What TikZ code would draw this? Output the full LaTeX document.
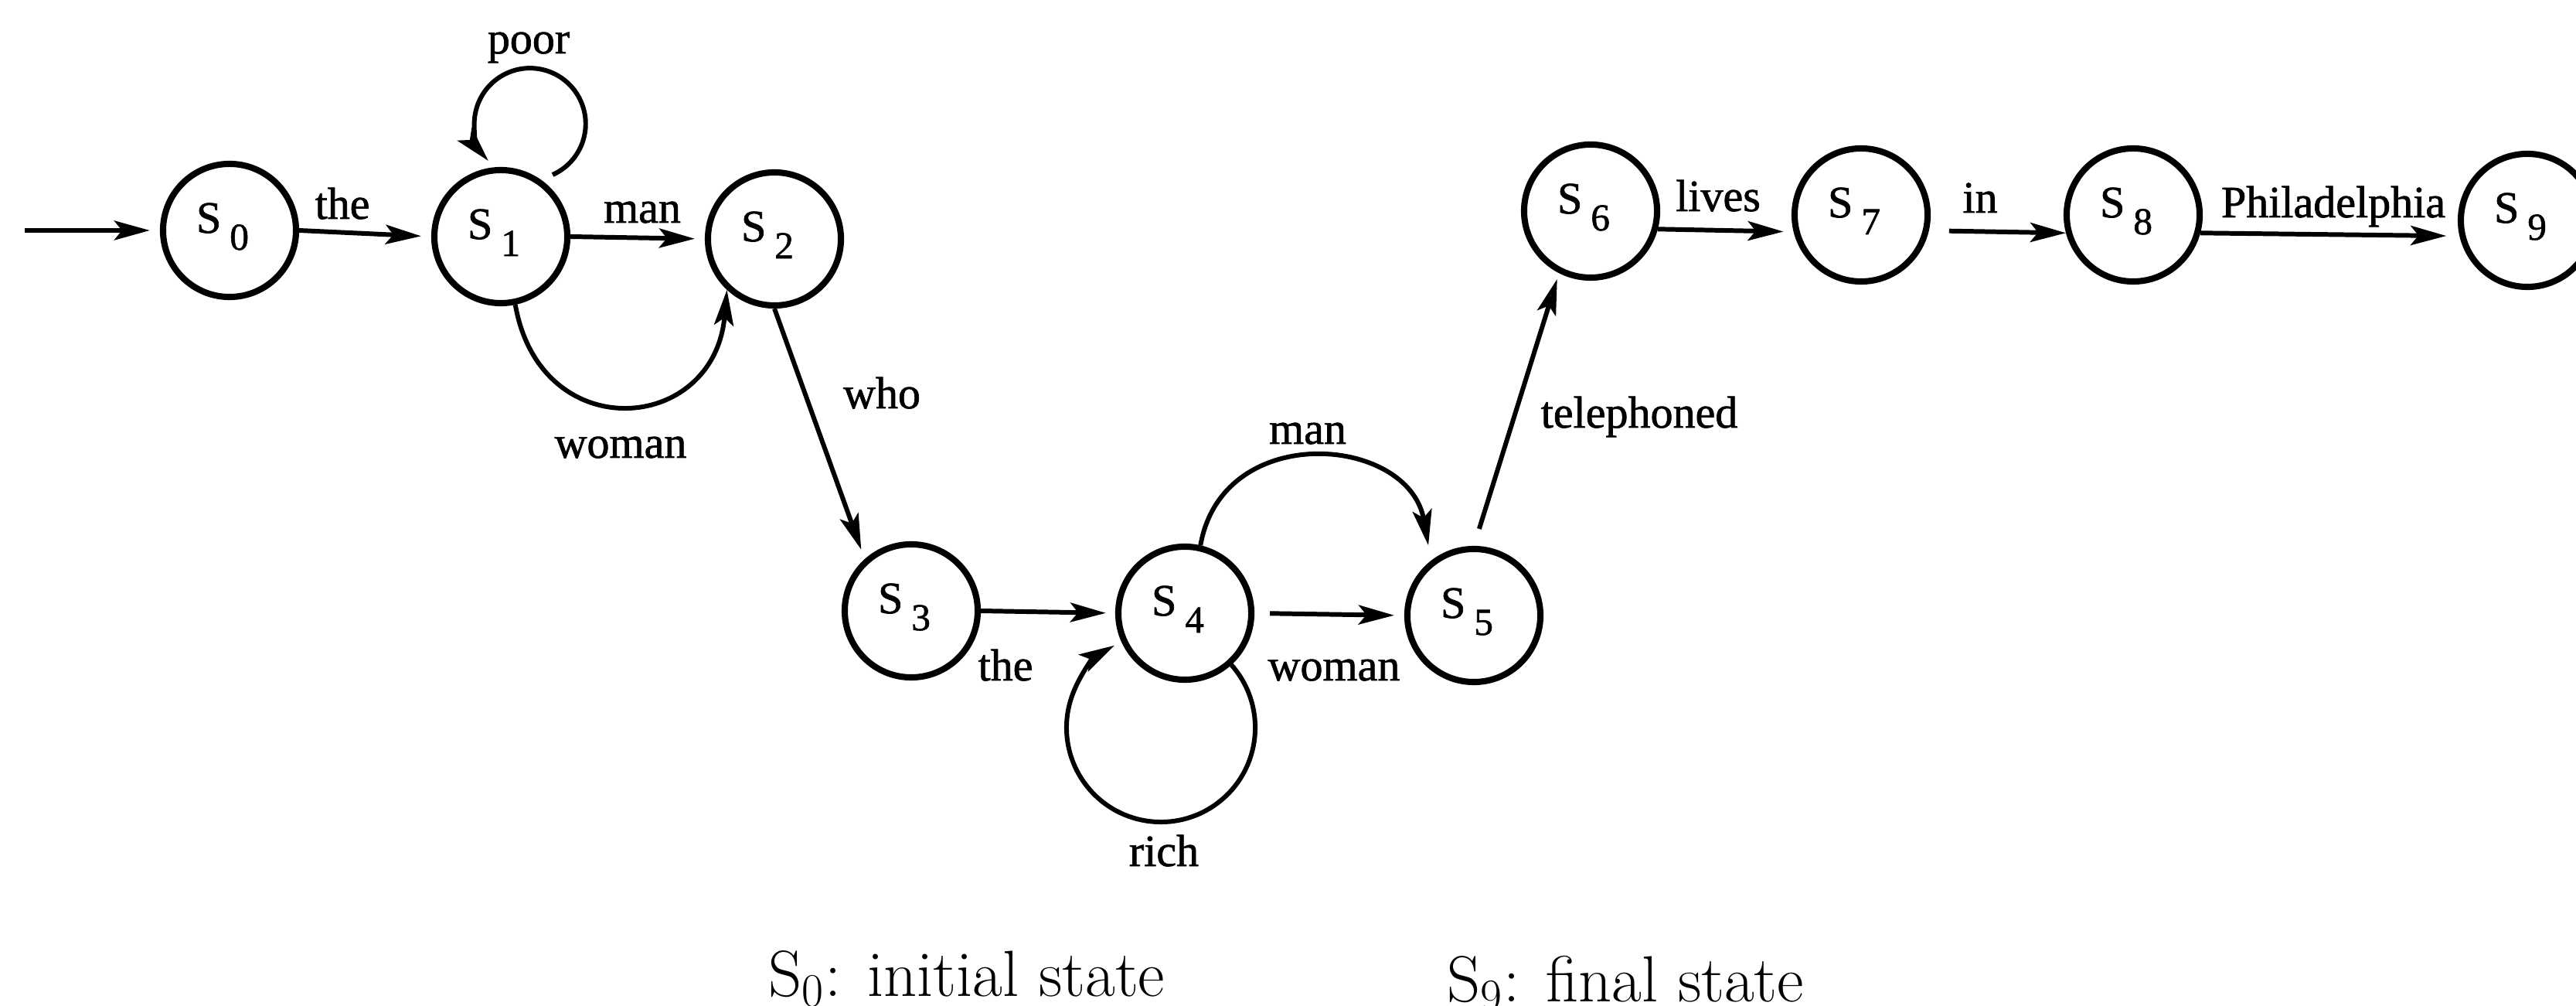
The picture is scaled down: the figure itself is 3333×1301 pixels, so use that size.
\documentclass[tikz,border=0pt]{standalone}
\usepackage{fontspec}
\usetikzlibrary{arrows.meta}
\newfontfamily\lblfont[FakeBold=1.2]{Liberation Serif}
% state name: S with a lowered, smaller index
\newcommand{\statename}[1]{S\kern0.11cm\raisebox{-0.22cm}{\fontsize{14pt}{14pt}\selectfont #1}\kern0.18cm}

\begin{document}
\begin{tikzpicture}[x=0.01cm,y=0.01cm,
  state/.style={circle,draw,line width=2.3pt,minimum size=1.72cm,inner sep=0pt,
    font=\lblfont\fontsize{16.5pt}{18pt}\selectfont,text height=0.3cm,text depth=0.24cm},
  edge/.style={line width=1.7pt,-{Stealth[length=4.6mm,width=2.5mm,inset=1mm]}},
  lbl/.style={anchor=base,inner sep=0pt,font=\lblfont\fontsize{16.5pt}{18pt}\selectfont},
  caption/.style={anchor=base west,inner sep=0pt,font=\fontsize{24pt}{28pt}\selectfont}]

\path[use as bounding box,fill=white] (0,0) rectangle (3333,-1301);

% states
\node[state] (s0) at (297,-298)  {\statename{0}};
\node[state] (s1) at (648,-306)  {\statename{1}};
\node[state] (s2) at (1002,-309) {\statename{2}};
\node[state] (s3) at (1179,-790) {\statename{3}};
\node[state] (s4) at (1533,-793) {\statename{4}};
\node[state] (s5) at (1907,-796) {\statename{5}};
\node[state] (s6) at (2058,-273) {\statename{6}};
\node[state] (s7) at (2408,-278) {\statename{7}};
\node[state] (s8) at (2760,-278) {\statename{8}};
\node[state] (s9) at (3270,-285) {\statename{9}};

% start arrow
\coordinate (init) at (32,-298);
\draw[edge,shorten >=0.13cm] (init) -- (s0.west);

% transitions
\draw[edge,shorten >=0.13cm] (s0.east) -- (s1.west);
\draw[edge,shorten >=0.13cm] (s1.east) -- (s2.west);
\draw[edge] ([shift={(67,80)}]s1.center) arc[start angle=-66,end angle=221.6,radius=0.72cm];
\draw[edge] (s1.-78) to[out=-80,in=-95,looseness=1.75] (s2.-133);
\draw[edge,shorten >=0.13cm] (s2.-90) -- (s3.132);
\draw[edge,shorten >=0.12cm] (s3.east) -- (s4.west);
\draw[edge,shorten <=0.2cm,shorten >=0.13cm] (s4.east) -- (s5.west);
\draw[edge,shorten >=0.2cm] (s4.77) to[out=80,in=100,looseness=1.41] (s5.128);
\draw[edge] (s4.-48) arc[start angle=41.6,end angle=-240.5,radius=1.22cm];
\draw[edge,shorten <=0.23cm,shorten >=0.08cm] (s5.north) -- (s6.-117);
\draw[edge,shorten >=0.13cm] (s6.-15) -- (s7.194);
\draw[edge,shorten <=0.26cm] (s7.-13) -- (s8.195);
\draw[edge,shorten >=0.17cm] (s8.-15) -- (s9.193);

% transition labels
\node[lbl] (l-the1)   at (443,-283)  {the};
\node[lbl] (l-man1)   at (831,-288)  {man};
\node[lbl] (l-poor)   at (684,-69)   {poor};
\node[lbl] (l-woman1) at (803,-592)  {woman};
\node[lbl] (l-who)    at (1141,-528) {who};
\node[lbl] (l-the2)   at (1301,-880) {the};
\node[lbl] (l-woman2) at (1726,-880) {woman};
\node[lbl] (l-man2)   at (1692,-574) {man};
\node[lbl] (l-rich)   at (1506,-1120) {rich};
\node[lbl] (l-tel)    at (2121,-553) {telephoned};
\node[lbl] (l-lives)  at (2223,-273) {lives};
\node[lbl] (l-in)     at (2562,-275) {in};
\node[lbl] (l-phil)   at (3019,-281) {Philadelphia};

% legend
\node[caption] (c-init)  at (994,-1288)  {S$_0$: initial state};
\node[caption] (c-final) at (1872,-1295) {S$_9$: final state};
\end{tikzpicture}
\end{document}
